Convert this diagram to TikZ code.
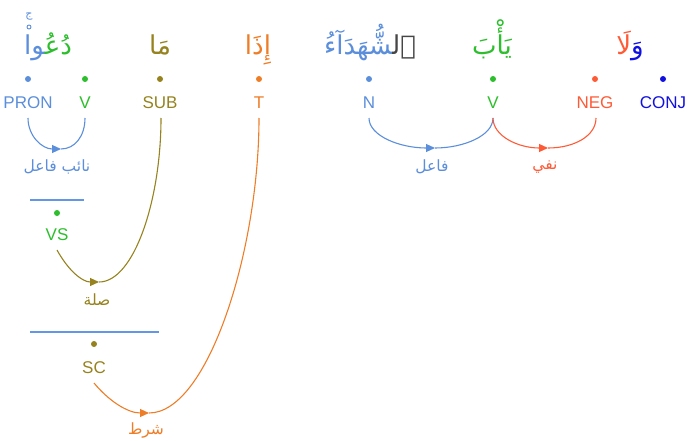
\documentclass[tikz,border=0pt]{standalone}
\usepackage{fontspec}
\usetikzlibrary{arrows.meta}
\setmainfont{Liberation Sans}
\newfontfamily\arabicfont[Script=Arabic]{DejaVu Sans}
\TeXXeTstate=1
\definecolor{pronblue}{RGB}{91,142,219}
\definecolor{vgreen}{RGB}{44,190,44}
\definecolor{subolive}{RGB}{150,130,30}
\definecolor{torange}{RGB}{238,125,40}
\definecolor{negred}{RGB}{255,90,54}
\definecolor{conjblue}{RGB}{16,16,224}
\definecolor{algray}{RGB}{70,70,70}
\definecolor{lineblue}{RGB}{100,150,230}
\newcommand{\zwjc}{\char"200D\relax}
\begin{document}
\begin{tikzpicture}[x=1pt,y=-1pt,
  arabword/.style={inner sep=0pt,anchor=base,font=\arabicfont\fontsize{26}{30}\selectfont},
  poslabel/.style={inner sep=0pt,anchor=base,font=\fontsize{17}{20}\selectfont},
  rellabel/.style={inner sep=0pt,font=\arabicfont\fontsize{15.5}{18}\selectfont},
  dotc/.style={circle,fill,inner sep=0pt,minimum size=6pt},
  plainarc/.style={line width=1.1pt},
  arrowarc/.style={-{Triangle[length=9pt,width=8pt]},line width=1.1pt}]
\useasboundingbox (0,0) rectangle (687,441);
% words (segments placed left to right, each run shaped right to left)
\node[arabword] (w1) at (48,55) {\textcolor{pronblue}{\zwjc وا}\textcolor{vgreen}{دُعُ\zwjc}};
\node[arabword,subolive] (w2) at (160,55) {مَا};
\node[arabword,torange] (w3) at (258,55) {إِذَا};
\node[arabword] (w4) at (370,55) {\textcolor{pronblue}{\zwjc شُّهَدَآءُ}\textcolor{algray}{ٱل\zwjc}};
\node[arabword,vgreen] (w5) at (492,55) {يَأْبَ};
\node[arabword] (w6) at (630,55) {\textcolor{negred}{لَا}\textcolor{conjblue}{وَ}};
% small marks over the alif of the first word
\node[inner sep=0pt,pronblue,font=\arabicfont\fontsize{11}{12}\selectfont] (waqf) at (29,17) {ج};
\node[circle,draw=pronblue,line width=0.9pt,inner sep=0pt,minimum size=4pt] (zero) at (29,27) {};
% dots
\node[dotc,pronblue] (d1) at (28,79) {};
\node[dotc,vgreen] (d2) at (85,79) {};
\node[dotc,subolive] (d3) at (160,79) {};
\node[dotc,torange] (d4) at (259,79) {};
\node[dotc,pronblue] (d5) at (369,79) {};
\node[dotc,vgreen] (d6) at (493,79) {};
\node[dotc,negred] (d7) at (595,79) {};
\node[dotc,conjblue] (d8) at (663,79) {};
% pos labels
\node[poslabel,pronblue] (p1) at (28,108) {PRON};
\node[poslabel,vgreen] (p2) at (85,108) {V};
\node[poslabel,subolive] (p3) at (160,108) {SUB};
\node[poslabel,torange] (p4) at (259,108) {T};
\node[poslabel,pronblue] (p5) at (369,108) {N};
\node[poslabel,vgreen] (p6) at (493,108) {V};
\node[poslabel,negred] (p7) at (595,108) {NEG};
\node[poslabel,conjblue] (p8) at (663,108) {CONJ};
% hidden nodes
\node[dotc,vgreen] (d9) at (57,213) {};
\node[poslabel,vgreen] (p9) at (57,240) {VS};
\node[dotc,subolive] (d10) at (94,344) {};
\node[poslabel,subolive] (p10) at (94,373) {SC};
% lines
\coordinate (l1a) at (30,200); \coordinate (l1b) at (84,200);
\coordinate (l2a) at (30,332); \coordinate (l2b) at (159,332);
\draw[lineblue,line width=1.1pt] (l1a) -- (l1b);
\draw[lineblue,line width=1.1pt] (l2a) -- (l2b);
% arc anchor coordinates
\coordinate (a1) at (28,118); \coordinate (a2) at (85,118);
\coordinate (a3) at (161,118); \coordinate (a4) at (259,118);
\coordinate (a5) at (369,118); \coordinate (a6) at (493,118);
\coordinate (a7) at (596,118);
\coordinate (a9) at (57,250); \coordinate (a10) at (94,383);
\coordinate (m1) at (61,149); \coordinate (m2) at (99,282);
\coordinate (m3) at (149,413); \coordinate (m4) at (435,148);
\coordinate (m5) at (548,148);
% PRON - V
\draw[arrowarc,pronblue] (a1) .. controls (28,136) and (42,149) .. (m1);
\draw[plainarc,pronblue] (m1) .. controls (75,149) and (85,136) .. (a2);
% VS - SUB
\draw[arrowarc,subolive] (a9) .. controls (68,270) and (82,282) .. (m2);
\draw[plainarc,subolive] (m2) .. controls (134,282) and (161,200) .. (a3);
% SC - T
\draw[arrowarc,torange] (a10) .. controls (108,400) and (127,413) .. (m3);
\draw[plainarc,torange] (m3) .. controls (208,413) and (259,250) .. (a4);
% N - V
\draw[arrowarc,pronblue] (a5) .. controls (369,136) and (400,148) .. (m4);
\draw[plainarc,pronblue] (m4) .. controls (463,148) and (493,136) .. (a6);
% V - NEG
\draw[arrowarc,negred] (a6) .. controls (493,136) and (518,148) .. (m5);
\draw[plainarc,negred] (m5) .. controls (574,148) and (596,136) .. (a7);
% relation labels
\node[rellabel,pronblue] (r1) at (57,167) {\beginR نائب فاعل\endR};
\node[rellabel,subolive] (r2) at (97,300) {صلة};
\node[rellabel,torange] (r3) at (146,430) {شرط};
\node[rellabel,pronblue] (r4) at (432,167) {فاعل};
\node[rellabel,negred] (r5) at (545,167) {نفي};
\end{tikzpicture}
\end{document}
